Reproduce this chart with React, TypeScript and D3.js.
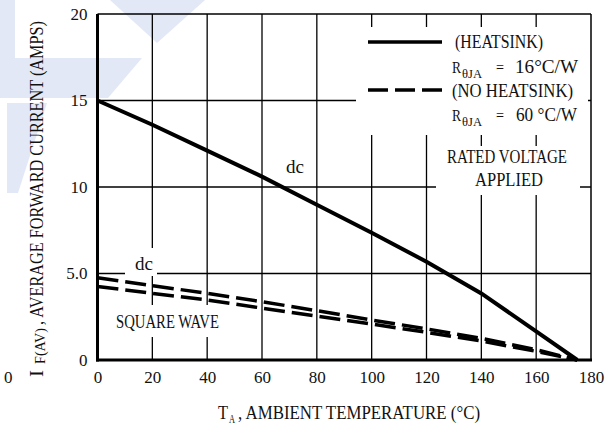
import React, { useEffect, useRef } from 'react';
import * as d3 from 'd3';

// Derating curves
const temps = [0, 20, 40, 60, 80, 100, 120, 140, 160, 175];
const heatsinkDc = [15, 13.6, 12.1, 10.6, 8.97, 7.36, 5.68, 3.85, 1.65, 0];
const noHeatsinkDc = [4.75, 4.3, 3.85, 3.37, 2.85, 2.31, 1.8, 1.25, 0.6, 0];
const noHeatsinkSquare = [4.25, 3.85, 3.47, 3.0, 2.54, 2.08, 1.6, 1.1, 0.5, 0];

const xTicks = [0, 20, 40, 60, 80, 100, 120, 140, 160, 180];
const yTicks = [0, 5, 10, 15, 20];
const yTickLabels = ['0', '5.0', '10', '15', '20'];

const FONT = 'Liberation Serif, DejaVu Serif, serif';

const App = () => {
  const ref = useRef<SVGSVGElement>(null);

  useEffect(() => {
    const svg = d3.select(ref.current);
    svg.selectAll('*').remove();

    const width = 610;
    const height = 425;

    const x = d3.scaleLinear().domain([0, 180]).range([97.5, 591]);
    const y = d3.scaleLinear().domain([0, 20]).range([360, 14]);

    svg.append('rect').attr('width', width).attr('height', height).attr('fill', '#fff');

    // faint watermark in the top left corner
    const mark = svg.append('g').attr('fill', '#e2e8f6');
    const shapes = [
      [[0, 0], [15, 0], [15, 58], [0, 58]],
      [[0, 58], [142, 58], [108, 98], [0, 98]],
      [[7, 103], [47, 103], [18, 193], [7, 193]],
      [[110, 0], [205, 0], [157, 43]],
    ];
    shapes.forEach((s) => {
      mark.append('polygon').attr('points', s.map((p) => p.join(',')).join(' '));
    });

    // grid
    const grid = svg.append('g').attr('stroke', '#000').attr('stroke-width', 1.3);
    xTicks.slice(1, -1).forEach((t) => {
      grid.append('line').attr('x1', x(t)).attr('x2', x(t)).attr('y1', y(20)).attr('y2', y(0));
    });
    yTicks.slice(1, -1).forEach((t) => {
      grid.append('line').attr('x1', x(0)).attr('x2', x(180)).attr('y1', y(t)).attr('y2', y(t));
    });

    // white boxes behind the annotations cut the grid
    const knock = [
      [356, 27, 232, 108],
      [436, 146, 144, 49],
      [125, 248, 32, 28],
      [112, 305, 110, 32],
    ];
    knock.forEach(([kx, ky, kw, kh]) => {
      svg.append('rect').attr('x', kx).attr('y', ky).attr('width', kw).attr('height', kh).attr('fill', '#fff');
    });

    // thin top and right frame
    svg.append('line').attr('x1', x(0)).attr('x2', x(180)).attr('y1', y(20)).attr('y2', y(20))
      .attr('stroke', '#000').attr('stroke-width', 1.5);
    svg.append('line').attr('x1', x(180)).attr('x2', x(180)).attr('y1', y(20)).attr('y2', y(0))
      .attr('stroke', '#000').attr('stroke-width', 1.5);

    const line = d3.line<number>()
      .x((d, i) => x(temps[i]))
      .y((d) => y(d));

    svg.append('path').datum(heatsinkDc).attr('d', line)
      .attr('fill', 'none').attr('stroke', '#000').attr('stroke-width', 4);
    [noHeatsinkDc, noHeatsinkSquare].forEach((s) => {
      svg.append('path').datum(s).attr('d', line)
        .attr('fill', 'none').attr('stroke', '#000').attr('stroke-width', 3.5)
        .attr('stroke-dasharray', '21,7');
    });

    // heavy left and bottom axes
    svg.append('line').attr('x1', x(0)).attr('x2', x(0)).attr('y1', y(20)).attr('y2', y(0) + 1.5)
      .attr('stroke', '#000').attr('stroke-width', 3);
    svg.append('line').attr('x1', x(0) - 1.5).attr('x2', x(180) + 1).attr('y1', y(0)).attr('y2', y(0))
      .attr('stroke', '#000').attr('stroke-width', 3);

    // tick labels
    const xAxis = svg.append('g').attr('transform', `translate(0, ${y(0)})`)
      .call(d3.axisBottom(x).tickValues(xTicks).tickSize(0).tickPadding(11));
    const yAxis = svg.append('g').attr('transform', `translate(${x(0)}, 0)`)
      .call(d3.axisLeft(y).tickValues(yTicks).tickSize(0).tickPadding(10)
        .tickFormat((d, i) => yTickLabels[i]));
    [xAxis, yAxis].forEach((a) => {
      a.select('.domain').remove();
      a.attr('font-family', null).attr('font-size', null);
      a.selectAll('text').style('font-family', FONT).style('font-size', '17px').attr('fill', '#111');
    });

    const label = (g: any, str: string, tx: number, ty: number, size: number, len?: number) => {
      const t = g.append('text').attr('x', tx).attr('y', ty)
        .style('font-family', FONT).style('font-size', `${size}px`).attr('fill', '#111').text(str);
      if (len) t.attr('textLength', len).attr('lengthAdjust', 'spacingAndGlyphs');
      return t;
    };

    // stray "0" at far left
    label(svg, '0', 4, 383, 17);

    // legend
    svg.append('line').attr('x1', 368).attr('x2', 442).attr('y1', 42).attr('y2', 42)
      .attr('stroke', '#000').attr('stroke-width', 3.5);
    svg.append('line').attr('x1', 368).attr('x2', 442).attr('y1', 90).attr('y2', 90)
      .attr('stroke', '#000').attr('stroke-width', 3.5).attr('stroke-dasharray', '20,7');
    label(svg, '(HEATSINK)', 455, 48, 19, 88);
    label(svg, 'R', 452, 73, 16, 9);
    label(svg, 'θJA', 462, 78, 13, 20);
    label(svg, '=', 496, 73, 17, 8);
    label(svg, '16°C/W', 515, 73, 19, 63);
    label(svg, '(NO HEATSINK)', 452, 97, 19, 121);
    label(svg, 'R', 452, 121, 16, 9);
    label(svg, 'θJA', 462, 126, 13, 20);
    label(svg, '=', 496, 121, 17, 8);
    label(svg, '60 °C/W', 516, 121, 19, 61);
    label(svg, 'RATED VOLTAGE', 447, 163, 19, 120);
    label(svg, 'APPLIED', 475, 186, 19, 68);

    // curve annotations
    label(svg, 'dc', 286, 173, 19, 18);
    label(svg, 'dc', 135, 270, 19, 18);
    label(svg, 'SQUARE WAVE', 116, 328, 19, 103);

    // x axis title
    label(svg, 'T', 218, 419, 19, 10);
    label(svg, 'A', 229, 423, 13, 6);
    label(svg, ',  AMBIENT TEMPERATURE (°C)', 238, 419, 19, 242);

    // y axis title, rotated
    const yt = svg.append('g').attr('transform', 'translate(43, 377) rotate(-90)');
    label(yt, 'I', 0, 0, 19, 7);
    label(yt, 'F(AV)', 13, 2, 15, 36);
    label(yt, ',  AVERAGE FORWARD CURRENT (AMPS)', 52, 0, 19, 304);
  }, []);

  return (
    <div className="chart">
      <svg ref={ref} width="610" height="425"
        style={{ position: 'absolute', left: 0, top: 0, display: 'block' }}></svg>
    </div>
  );
};

export default App;
